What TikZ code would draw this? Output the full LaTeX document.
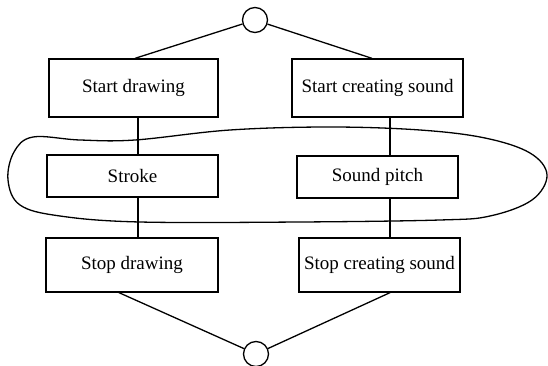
\documentclass[tikz,border=0pt]{standalone}
\usepackage{fontspec}
\setmainfont{Liberation Serif}
\begin{document}
\begin{tikzpicture}[x=1pt,y=-1pt,
  ln/.style={line width=1.3pt},
  box/.style={draw,ln,rectangle,inner sep=0pt,font=\fontsize{19}{22}\selectfont},
  jn/.style={draw,ln,circle,minimum size=25pt,inner sep=0pt}]
\useasboundingbox (0,0) rectangle (548,366);
\node[jn] (tc) at (255,20) {};
\node[jn] (bc) at (256,354) {};
\node[box,minimum width=169pt,minimum height=58pt] (sd) at (133.5,88) {Start drawing};
\node[box,minimum width=171pt,minimum height=58pt] (scs) at (377.5,88) {Start creating sound};
\node[box,minimum width=171pt,minimum height=42pt] (st) at (132.5,176) {Stroke};
\node[box,minimum width=161pt,minimum height=42pt] (sp) at (377.5,177) {Sound pitch};
\node[box,minimum width=172pt,minimum height=54pt] (spd) at (132,265) {Stop drawing};
\node[box,minimum width=161pt,minimum height=54pt] (spc) at (379.5,265) {Stop creating sound};
\draw[ln] (tc) -- ([xshift=1.5pt]sd.north);
\draw[ln] (tc) -- ([xshift=-5.5pt]scs.north);
\draw[ln] ([xshift=4.5pt]sd.south) -- ([xshift=5.5pt]st.north);
\draw[ln] ([xshift=12.5pt]scs.south) -- ([xshift=12.5pt]sp.north);
\draw[ln] ([xshift=5.5pt]st.south) -- ([xshift=6pt]spd.north);
\draw[ln] ([xshift=12.5pt]sp.south) -- ([xshift=10.5pt]spc.north);
\draw[ln] ([xshift=-13pt]spd.south) -- (bc);
\draw[ln] ([xshift=10.5pt]spc.south) -- (bc);
\draw[ln] plot[smooth cycle,tension=0.6] coordinates {
  (8,180) (14,152) (33,137) (80,140) (135,140) (230,130) (330,127)
  (420,130) (485,138) (530,153) (547,175) (532,200) (490,216) (440,220)
  (300,222) (140,222) (60,216) (20,205)};
\end{tikzpicture}
\end{document}
